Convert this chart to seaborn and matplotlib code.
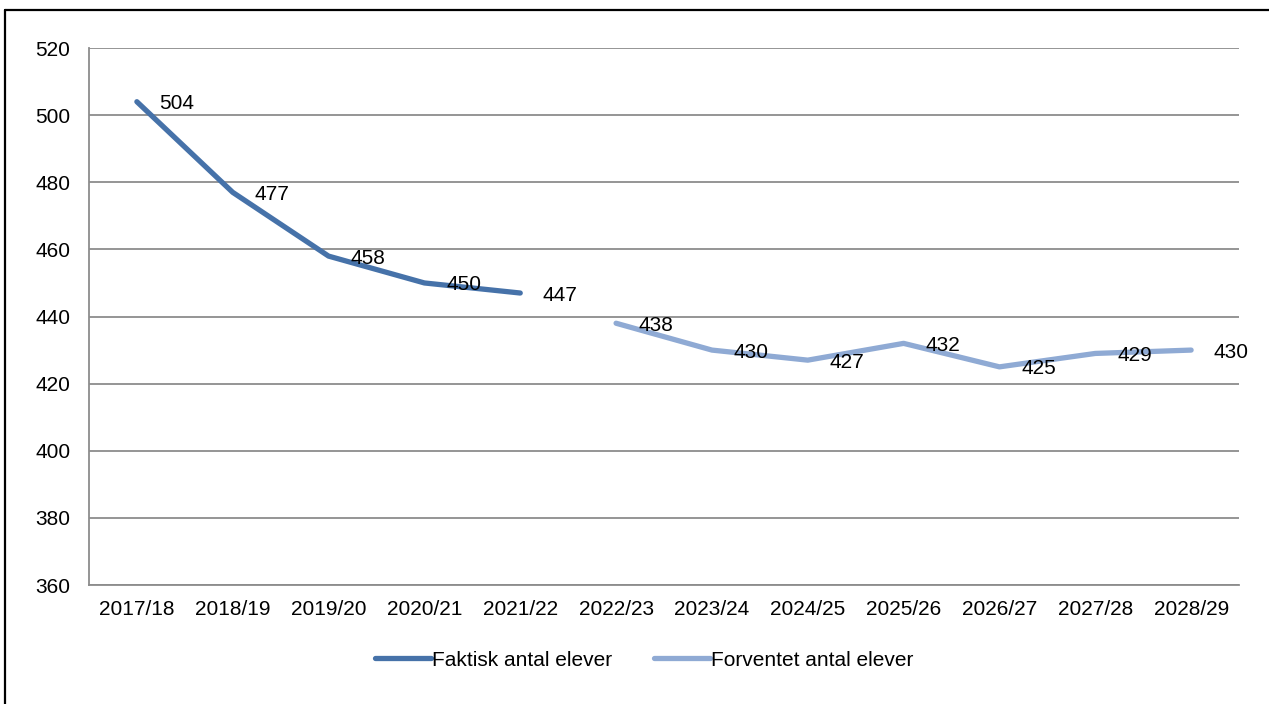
import pandas as pd
import seaborn as sns
import matplotlib.pyplot as plt
from matplotlib.lines import Line2D
from matplotlib.transforms import offset_copy

# data
years = ['2017/18', '2018/19', '2019/20', '2020/21', '2021/22', '2022/23',
         '2023/24', '2024/25', '2025/26', '2026/27', '2027/28', '2028/29']
faktisk = [504, 477, 458, 450, 447]
forventet = [438, 430, 427, 432, 425, 429, 430]

df_fak = pd.DataFrame({'aar': years[:5], 'elever': faktisk})
df_for = pd.DataFrame({'aar': years[5:], 'elever': forventet})

sns.set_style('white')
plt.rcParams['font.family'] = ['Liberation Sans', 'DejaVu Sans']
plt.rcParams['text.color'] = 'black'
plt.rcParams['xtick.color'] = 'black'
plt.rcParams['ytick.color'] = 'black'

fig = plt.figure(figsize=(12.69, 7.04), dpi=100)
ax = fig.add_axes([0.0701, 0.169, 0.9063, 0.7628])

col_fak = '#4672A9'
col_for = '#8FAAD4'
fs = 15

# kategorier som positioner
pos = {a: i for i, a in enumerate(years)}
df_fak['x'] = df_fak['aar'].map(pos)
df_for['x'] = df_for['aar'].map(pos)

sns.lineplot(data=df_fak, x='x', y='elever', ax=ax, color=col_fak, lw=3.8,
             solid_capstyle='round', label='Faktisk antal elever')
sns.lineplot(data=df_for, x='x', y='elever', ax=ax, color=col_for, lw=3.8,
             solid_capstyle='round', label='Forventet antal elever')

# datalabels til højre for punkterne
tr = offset_copy(ax.transData, fig=fig, x=22, y=-2, units='dots')
for d in (df_fak, df_for):
    for xv, yv in zip(d['x'], d['elever']):
        ax.text(xv, yv, str(yv), transform=tr, ha='left', va='center',
                fontsize=fs, color='black')

ax.set_xlim(-0.5, len(years) - 0.5)
ax.set_ylim(360, 520)
ax.set_xticks(range(len(years)))
ax.set_xticklabels(years)
ax.set_yticks(range(360, 521, 20))
ax.set_xlabel('')
ax.set_ylabel('')
ax.tick_params(axis='x', length=0, pad=11, labelsize=fs)
ax.tick_params(axis='y', length=0, pad=13.5, labelsize=fs)

ax.grid(axis='y', color='#8c8c8c', lw=1.3)
ax.set_axisbelow(True)
for s in ['top', 'right']:
    ax.spines[s].set_visible(False)
for s in ['left', 'bottom']:
    ax.spines[s].set_color('#8c8c8c')
    ax.spines[s].set_linewidth(1.3)

ax.legend(loc='center', bbox_to_anchor=(0.483, -0.14), ncol=2, frameon=False,
          fontsize=fs, handlelength=2.7, handletextpad=0.05, columnspacing=2.0)

# ramme omkring figuren
fig.add_artist(Line2D([5 / 1269, 1], [1 - 10 / 704, 1 - 10 / 704],
                      transform=fig.transFigure, color='black', lw=1.6))
fig.add_artist(Line2D([5 / 1269, 5 / 1269], [0, 1 - 10 / 704],
                      transform=fig.transFigure, color='black', lw=1.6))

fig.savefig('out.png', dpi=100)
